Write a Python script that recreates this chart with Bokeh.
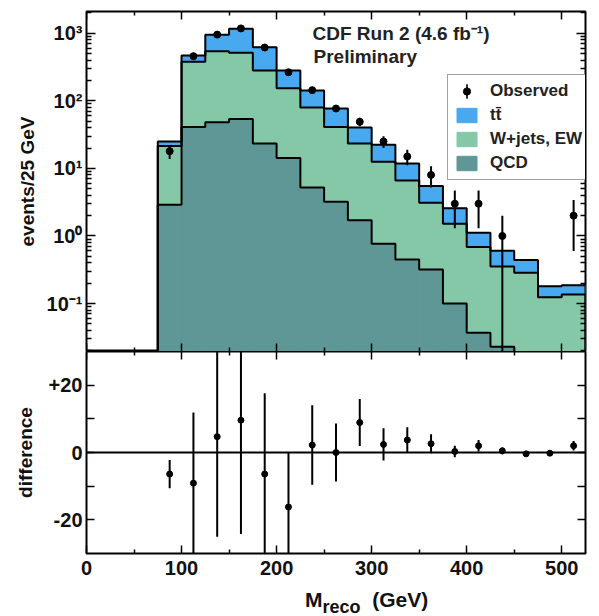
import numpy as np
from bokeh.plotting import figure
from bokeh.layouts import column
from bokeh.models import (ColumnDataSource, FixedTicker, LinearAxis, LogAxis, Legend, Div,
                          LegendItem, Label, Span, CustomJSTickFormatter, Range1d)
from bokeh.embed import file_html
from bokeh.resources import INLINE

# ---------------- data ----------------
bin_low = [75, 100, 125, 150, 175, 200, 225, 250, 275, 300, 325, 350, 375, 400, 425, 450, 475, 500]
bin_width = 25
qcd = [2.9, 41, 48, 54, 23.4, 14.2, 5.2, 3.2, 1.71, 0.77, 0.45, 0.32, 0.10, 0.037, 0.023, 0, 0, 0]
wjets = [18.5, 339, 495, 459, 257.6, 138.8, 74.8, 37.8, 21.7, 11.8, 6.15, 2.78, 1.42, 0.65, 0.33, 0.285, 0.124, 0.136]
ttbar = [3.6, 87, 407, 657, 341, 128, 62, 36, 17, 9.8, 5.2, 2.4, 1.06, 0.43, 0.25, 0.155, 0.056, 0.051]
observed = [18, 458, 955, 1180, 616, 265, 144, 77, 49, 25, 15, 8, 3, 3, 1, 0, 0, 2]
obs_err = [4.2, 21.4, 30.9, 34.4, 24.8, 16.3, 12.0, 8.8, 7.0, 5.0, 3.9, 2.8, 1.7, 1.7, 1.0, 0, 0, 1.4]
difference = [-6.4, -9.1, 4.7, 9.6, -6.4, -16.2, 2.2, 0.0, 8.9, 2.4, 3.7, 2.6, 0.3, 2.0, 0.5, -0.4, -0.2, 2.0]
diff_err = [4.2, 21.0, 29.7, 33.8, 24.0, 16.2, 11.8, 8.6, 7.0, 4.8, 3.8, 2.8, 1.7, 1.7, 1.0, 0, 0, 1.4]

x_ticks = [0, 100, 200, 300, 400, 500]
x_minor = [50, 150, 250, 350, 450]
log_ticks = [0.1, 1, 10, 100, 1000]
diff_ticks = [-20, -10, 0, 10, 20]
diff_labels = {20: "+20", 10: "", 0: "0", -10: "", -20: "-20"}

C_TT = "#48a8f0"
C_W = "#84c8a8"
C_QCD = "#5f9797"
FONT = "Liberation Sans"
FLOOR = 1e-3
X0, X1 = 0, 525
YT0, YT1 = 0.0195, 2100
YB0, YB1 = -30, 30

lo = np.array(bin_low, float)
hi = lo + bin_width
ctr = lo + bin_width / 2
q = np.array(qcd, float)
w = np.array(wjets, float)
t = np.array(ttbar, float)
qb = np.where(q > 0, q, FLOOR)
wtop = q + w
tot = wtop + t
obs = np.array(observed, float)
oerr = np.array(obs_err, float)

edges = np.append(lo, hi[-1])


def step_xy(vals):
    xs = np.concatenate([[edges[0]], np.repeat(edges, 2)[1:-1], [edges[-1]]])
    ys = np.concatenate([[FLOOR], np.repeat(vals, 2), [FLOOR]])
    return xs, ys


x_range = Range1d(X0, X1)


def style_axis(ax, major_in, minor_in):
    ax.major_tick_in = major_in
    ax.major_tick_out = 0
    ax.minor_tick_in = minor_in
    ax.minor_tick_out = 0
    ax.major_tick_line_width = 1.5
    ax.minor_tick_line_width = 1.5
    ax.major_tick_line_color = "black"
    ax.minor_tick_line_color = "black"
    ax.axis_line_color = None
    ax.major_label_text_font = FONT
    ax.major_label_text_font_style = "bold"
    ax.major_label_text_font_size = "20px"
    ax.major_label_text_color = "#111111"
    ax.axis_label_text_font = FONT
    ax.axis_label_text_font_style = "bold"
    ax.axis_label_text_font_size = "19px"
    ax.axis_label_text_color = "#111111"


def blank_axis(ax, loc):
    ax.fixed_location = loc
    ax.major_label_text_color = None
    ax.axis_label = None


# ---------------- top panel ----------------
top = figure(width=599, height=351, x_range=x_range, y_range=Range1d(YT0, YT1),
             y_axis_type="log", output_backend="svg", toolbar_location=None,
             min_border_left=86, min_border_right=14, min_border_top=11, min_border_bottom=0)
top.grid.visible = False
top.outline_line_color = "black"
top.outline_line_width = 2
top.background_fill_color = "white"

src = ColumnDataSource(dict(lo=lo, hi=hi, qb=qb, wtop=wtop, tot=tot))
r_qcd = top.quad(left="lo", right="hi", bottom=FLOOR, top="qb", source=src,
                 fill_color=C_QCD, line_color=C_QCD, line_width=1)
r_w = top.quad(left="lo", right="hi", bottom="qb", top="wtop", source=src,
               fill_color=C_W, line_color=C_W, line_width=1)
r_tt = top.quad(left="lo", right="hi", bottom="wtop", top="tot", source=src,
                fill_color=C_TT, line_color=C_TT, line_width=1)
for vals in (qb, wtop, tot):
    xs, ys = step_xy(vals)
    top.line(xs, ys, line_color="black", line_width=2)

m = obs > 0
osrc = ColumnDataSource(dict(x=ctr[m], y=obs[m],
                             y0=np.maximum(obs[m] - oerr[m], FLOOR), y1=obs[m] + oerr[m]))
top.segment(x0="x", x1="x", y0="y0", y1="y1", source=osrc, line_color="black", line_width=2)
r_obs = top.scatter(x="x", y="y", source=osrc, size=7, color="black")
# vertical error-bar glyph used only for the legend entry (outside the visible range)
r_bar = top.ellipse(x=[-100], y=[1], width=2, height=40, width_units="screen",
                    height_units="screen", fill_color="black", line_color="black")

sup = CustomJSTickFormatter(code="""
const e = Math.round(Math.log10(tick));
const m = {'-':'\u207b','0':'\u2070','1':'\u00b9','2':'\u00b2','3':'\u00b3'};
return '10' + String(e).split('').map(c => m[c]).join('');
""")
log_minor = [k * 10.0 ** e for e in range(-2, 4) for k in range(2, 10)]

yl = top.yaxis[0]
yl.ticker = FixedTicker(ticks=log_ticks, minor_ticks=log_minor)
yl.formatter = sup
yl.axis_label = "events/25 GeV"
style_axis(yl, 9, 5)
yl.major_label_standoff = 4
yl.axis_label_standoff = 6

xb = top.xaxis[0]
xb.ticker = FixedTicker(ticks=x_ticks, minor_ticks=x_minor)
style_axis(xb, 8, 4)
blank_axis(xb, YT0)

ya = LogAxis(ticker=FixedTicker(ticks=log_ticks, minor_ticks=log_minor))
style_axis(ya, 9, 5)
blank_axis(ya, X1)
top.add_layout(ya, "right")
xa = LinearAxis(ticker=FixedTicker(ticks=x_ticks, minor_ticks=x_minor))
style_axis(xa, 8, 4)
blank_axis(xa, YT1)
top.add_layout(xa, "above")

top.add_layout(Label(x=226, y=308, x_units="screen", y_units="screen",
                     text="CDF Run 2 (4.6 fb\u207b\u00b9)", text_font=FONT, text_font_style="bold",
                     text_font_size="19px", text_color="#222222"))
top.add_layout(Label(x=227, y=285, x_units="screen", y_units="screen",
                     text="Preliminary", text_font=FONT, text_font_style="bold",
                     text_font_size="19px", text_color="#222222"))

legend = Legend(items=[LegendItem(label="Observed", renderers=[r_bar, r_obs]),
                       LegendItem(label="tt\u0304", renderers=[r_tt]),
                       LegendItem(label="W+jets, EW", renderers=[r_w]),
                       LegendItem(label="QCD", renderers=[r_qcd])],
                location=(361, 171))
legend.label_text_font = FONT
legend.label_text_font_style = "bold"
legend.label_text_font_size = "17px"
legend.label_text_color = "#222222"
legend.glyph_width = 25
legend.glyph_height = 18
legend.label_height = 19
legend.label_standoff = 11
legend.padding = 6
legend.spacing = 4
legend.margin = 0
legend.border_line_color = "#444444"
legend.border_line_width = 1.5
legend.background_fill_color = "white"
legend.background_fill_alpha = 1
top.add_layout(legend, "center")

# ---------------- bottom panel ----------------
bot = figure(width=599, height=237, x_range=x_range, y_range=Range1d(YB0, YB1),
             output_backend="svg", toolbar_location=None,
             min_border_left=86, min_border_right=14, min_border_top=0, min_border_bottom=35)
bot.grid.visible = False
bot.outline_line_color = "black"
bot.outline_line_width = 2

bot.add_layout(Span(location=0, dimension="width", line_color="black", line_width=2))
d = np.array(difference, float)
de = np.array(diff_err, float)
dsrc = ColumnDataSource(dict(x=ctr, y=d, y0=d - de, y1=d + de))
bot.segment(x0="x", x1="x", y0="y0", y1="y1", source=dsrc, line_color="black", line_width=2)
bot.scatter(x="x", y="y", source=dsrc, size=6, color="black")

bl = bot.yaxis[0]
bl.ticker = FixedTicker(ticks=diff_ticks)
bl.major_label_overrides = diff_labels
bl.axis_label = "difference"
style_axis(bl, 8, 0)
bl.major_label_standoff = 4
bl.axis_label_standoff = 10

bx = bot.xaxis[0]
bx.ticker = FixedTicker(ticks=x_ticks, minor_ticks=x_minor)
style_axis(bx, 8, 4)
bx.major_label_standoff = 7

br = LinearAxis(ticker=FixedTicker(ticks=diff_ticks))
style_axis(br, 8, 0)
blank_axis(br, X1)
bot.add_layout(br, "right")
ba = LinearAxis(ticker=FixedTicker(ticks=x_ticks, minor_ticks=x_minor))
style_axis(ba, 8, 4)
blank_axis(ba, YB1)
bot.add_layout(ba, "above")

x_title = Div(
    text=("<div style=\"padding-left:305px;font-family:'Liberation Sans';font-weight:bold;"
          "font-size:21px;line-height:24px;color:#111111;white-space:nowrap\">M"
          "<span style=\"font-size:18px;vertical-align:-6px;line-height:0\">reco</span>"
          "&nbsp;&nbsp;(GeV)</div>"),
    width=599, height=28, margin=0)

layout = column(top, bot, x_title)
open("out.html", "w").write(file_html(layout, INLINE))
